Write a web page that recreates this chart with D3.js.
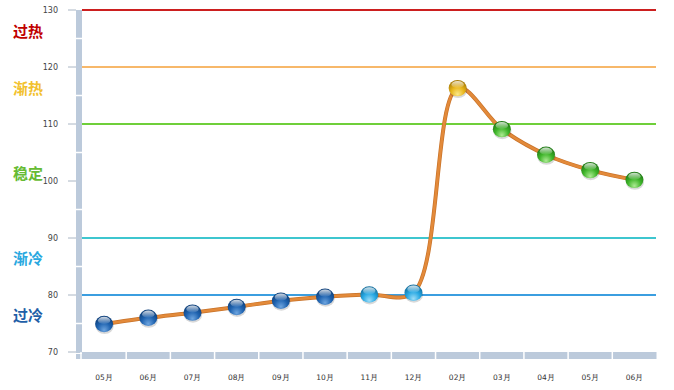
<!DOCTYPE html>
<html>
<head>
<meta charset="utf-8">
<script src="https://cdn.jsdelivr.net/npm/d3@7"></script>
<style>
  body { margin: 0; background: #fff; }
  svg { display: block; font-family: Verdana, "DejaVu Sans", sans-serif; }
</style>
</head>
<body>
<script>
// data
var months = ["05月","06月","07月","08月","09月","10月","11月","12月","02月","03月","04月","05月","06月"]
var values = [74.9, 76.0, 76.9, 77.9, 79.0, 79.7, 80.1, 80.4, 116.3, 109.1, 104.6, 101.9, 100.2]
var yTicks = [70, 80, 90, 100, 110, 120, 130]

// threshold lines
var levelValues = [130, 120, 110, 90, 80]
var levelColors = ["#cc1f1f", "#f7b86a", "#6fcf3a", "#3ec6cf", "#3b9ee0"]

// zone labels
var zoneNames = ["过热", "渐热", "稳定", "渐冷", "过冷"]
var zoneAt = [126.3, 116.2, 101.3, 86.4, 76.4]
var zoneColors = ["#c00000", "#f2c12e", "#66bb33", "#29a8e0", "#1f5fa8"]

var width = 674, height = 390
var svg = d3.select("body").append("svg").attr("width", width).attr("height", height)

var x = d3.scaleBand().domain(d3.range(months.length)).range([82, 656.5])
var y = d3.scaleLinear().domain([70, 130]).range([352, 10])

var defs = svg.append("defs")
var balls = {
  dark:  ["#6fa6e0", "#1f63b0", "#0d3f7a"],
  light: ["#9fdef8", "#27a8e3", "#136f9e"],
  green: ["#aeeb94", "#3fb52a", "#1f7a14"],
  gold:  ["#fbe98a", "#e8b51a", "#a87b06"]
}
Object.keys(balls).forEach(function(k){
  var g = defs.append("radialGradient").attr("id", "ball-" + k)
    .attr("cx", "50%").attr("cy", "70%").attr("r", "65%").attr("fx", "50%").attr("fy", "88%")
  g.append("stop").attr("offset", "0%").attr("stop-color", balls[k][0])
  g.append("stop").attr("offset", "55%").attr("stop-color", balls[k][1])
  g.append("stop").attr("offset", "100%").attr("stop-color", balls[k][2])
})
var shine = defs.append("linearGradient").attr("id", "shine").attr("x1", 0).attr("y1", 0).attr("x2", 0).attr("y2", 1)
shine.append("stop").attr("offset", "0%").attr("stop-color", "#fff").attr("stop-opacity", 0.8)
shine.append("stop").attr("offset", "100%").attr("stop-color", "#fff").attr("stop-opacity", 0.05)

// axis bars
var barColor = "#bccadb"
svg.append("rect").attr("x", 76).attr("y", y(130)).attr("width", 6).attr("height", 359 - y(130)).attr("fill", barColor)
svg.append("rect").attr("x", 76).attr("y", 352).attr("width", 580.5).attr("height", 7).attr("fill", barColor)

// white separators on y bar (half steps)
svg.selectAll(".ysep").data(d3.range(75, 130, 10)).join("line")
  .attr("x1", 76).attr("x2", 82).attr("y1", d => y(d)).attr("y2", d => y(d))
  .attr("stroke", "#fff").attr("stroke-width", 1.5)
svg.append("line").attr("x1", 81).attr("x2", 81).attr("y1", 352).attr("y2", 359).attr("stroke", "#fff").attr("stroke-width", 1.5)
svg.append("line").attr("x1", 76).attr("x2", 82).attr("y1", 353.5).attr("y2", 353.5).attr("stroke", "#fff").attr("stroke-width", 1)

// white separators on x bar
svg.selectAll(".xsep").data(d3.range(1, months.length)).join("line")
  .attr("x1", d => x(d)).attr("x2", d => x(d)).attr("y1", 352).attr("y2", 359)
  .attr("stroke", "#fff").attr("stroke-width", 1.5)

// y ticks
svg.selectAll(".ytick").data(yTicks).join("line")
  .attr("x1", 68).attr("x2", 76).attr("y1", d => y(d)).attr("y2", d => y(d))
  .attr("stroke", "#aab6c4").attr("stroke-width", 1)
svg.selectAll(".ylab").data(yTicks).join("text")
  .attr("x", 58).attr("y", d => y(d) + 3).attr("text-anchor", "end")
  .attr("font-size", 8).attr("fill", "#444").text(d => d)

// x labels
svg.selectAll(".xlab").data(months).join("text")
  .attr("x", (d, i) => x(i) + x.bandwidth() / 2).attr("y", 380).attr("text-anchor", "middle")
  .attr("font-size", 7.5).attr("fill", "#333").text(d => d)

// level lines
svg.selectAll(".level").data(levelValues).join("line")
  .attr("x1", 82).attr("x2", 656).attr("y1", d => y(d)).attr("y2", d => y(d))
  .attr("stroke", (d, i) => levelColors[i]).attr("stroke-width", 2)

// zone labels
svg.selectAll(".zone").data(zoneNames).join("text")
  .attr("x", 13).attr("y", (d, i) => y(zoneAt[i]) + 5.5)
  .attr("font-family", "'Noto Sans CJK SC', sans-serif").attr("font-weight", "bold")
  .attr("font-size", 15).attr("fill", (d, i) => zoneColors[i]).text(d => d)

// line
var line = d3.line().x((d, i) => x(i) + x.bandwidth() / 2).y(d => y(d)).curve(d3.curveCatmullRom.alpha(0.5))
svg.append("path").datum(values).attr("d", line)
  .attr("fill", "none").attr("stroke", "#c8732a").attr("stroke-width", 4)
svg.append("path").datum(values).attr("d", line)
  .attr("fill", "none").attr("stroke", "#e38a3a").attr("stroke-width", 2.6)

function ballType(v) {
  if (v >= 110) return "gold"
  if (v >= 90) return "green"
  if (v >= 80) return "light"
  return "dark"
}

var pts = svg.selectAll(".pt").data(values).join("g")
  .attr("transform", (d, i) => "translate(" + (x(i) + x.bandwidth() / 2) + "," + y(d) + ")")
pts.append("ellipse").attr("cx", 0.5).attr("cy", 1.8).attr("rx", 9.2).attr("ry", 8.2).attr("fill", "#000").attr("opacity", 0.15)
pts.append("ellipse").attr("rx", 9).attr("ry", 8.2).attr("fill", d => "url(#ball-" + ballType(d) + ")")
pts.append("ellipse").attr("cx", 0).attr("cy", -3.6).attr("rx", 6.2).attr("ry", 3.6).attr("fill", "url(#shine)")
</script>
</body>
</html>
